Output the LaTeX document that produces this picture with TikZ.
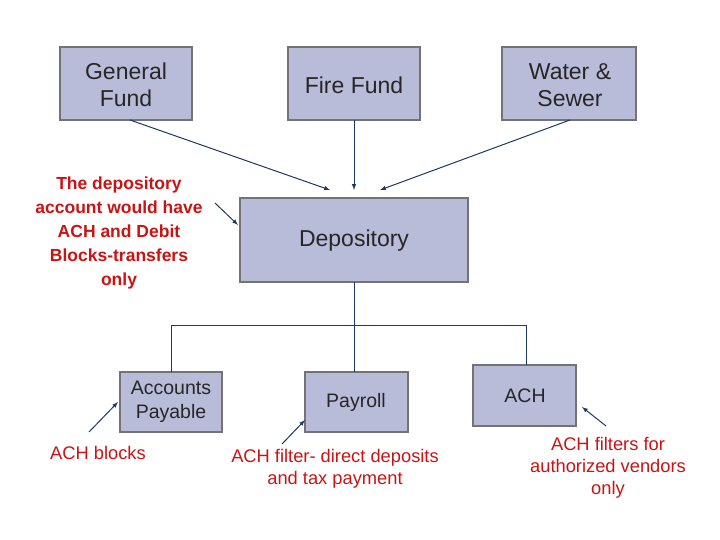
\documentclass[tikz,border=0pt]{standalone}
\usepackage{fontspec}
\setmainfont{Liberation Sans}
\begin{document}
\begin{tikzpicture}[x=1pt,y=-1pt,
  box/.style={draw=gray!90!black,line width=1.5pt,fill={rgb,255:red,184;green,188;blue,217}},
  btxt/.style={font=\fontsize{23}{27}\selectfont,align=center,text=black!85},
  stxt/.style={font=\fontsize{19.5}{24}\selectfont,align=center,text=black!85},
  rtxt/.style={font=\fontsize{18.3}{22}\selectfont,align=center,text={rgb,255:red,200;green,20;blue,20}},
  ln/.style={draw={rgb,255:red,31;green,56;blue,100},line width=1pt},
  arr/.style={ln,-latex}]
\useasboundingbox (0,0) rectangle (720,540);
\draw[box] (60,47) rectangle (192,120);
\node[btxt] (gf) at (126,85) {General\\Fund};
\draw[box] (288,47) rectangle (420,120);
\node[btxt] (ff) at (354,85) {Fire Fund};
\draw[box] (502,47) rectangle (636,120);
\node[btxt] (ws) at (570,85) {Water \&\\Sewer};
\draw[box] (240,198) rectangle (468,282);
\node[btxt] (dep) at (354,241) {Depository};
\draw[box] (120,372) rectangle (222,432);
\node[stxt] (ap) at (171,402) {Accounts\\Payable};
\draw[box] (305,372) rectangle (408,432);
\node[stxt] (pay) at (356,402) {Payroll};
\draw[box] (473,365) rectangle (576,426);
\node[stxt] (ach) at (525,396) {ACH};
\node[rtxt,font=\bfseries\fontsize{17.5}{24}\selectfont] (red) at (119,233) {The depository\\account would have\\ACH and Debit\\Blocks-transfers\\only};
\node[rtxt] (t1) at (98,453) {ACH blocks};
\node[rtxt] (t2) at (335,469) {ACH filter- direct  deposits\\and tax payment};
\node[rtxt] (t3) at (608,468) {ACH filters for\\authorized vendors\\only};
\coordinate (g1) at (130,120); \coordinate (g2) at (330,190);
\coordinate (f1) at (354,120); \coordinate (f2) at (354,190);
\coordinate (w1) at (570,120); \coordinate (w2) at (380,190);
\draw[arr] (g1) -- (g2);
\draw[arr] (f1) -- (f2);
\draw[arr] (w1) -- (w2);
\coordinate (r1) at (215,203); \coordinate (r2) at (238,225);
\draw[arr] (r1) -- (r2);
\coordinate (d1) at (354,282); \coordinate (d2) at (354,325);
\coordinate (l1) at (171,325); \coordinate (l2) at (171,372);
\coordinate (m2) at (354,372);
\coordinate (q1) at (526,325); \coordinate (q2) at (526,365);
\draw[ln] (d1) -- (m2);
\draw[ln] (l2) -- (l1) -- (q1) -- (q2);
\coordinate (a1) at (89,432); \coordinate (a2) at (118,402);
\coordinate (b1) at (282,444); \coordinate (b2) at (305,420);
\coordinate (c1) at (606,426); \coordinate (c2) at (582,407);
\draw[arr] (a1) -- (a2);
\draw[arr] (b1) -- (b2);
\draw[arr] (c1) -- (c2);
\end{tikzpicture}
\end{document}
